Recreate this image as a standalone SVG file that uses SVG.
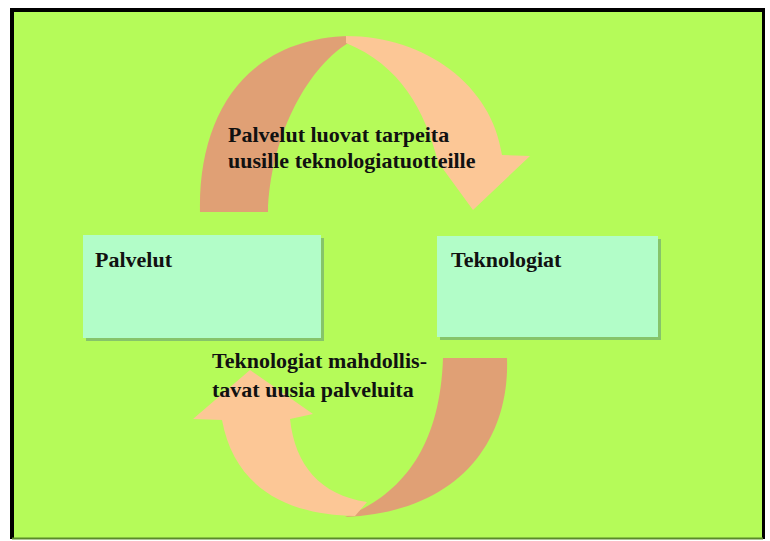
<svg xmlns="http://www.w3.org/2000/svg" width="770" height="541" viewBox="0 0 770 541">
<style>
.lbl{font-family:"Liberation Serif","Times New Roman",serif;font-weight:bold;font-size:22px;fill:#111}
.box{fill:#b2fdc8}
.shadow{fill:#86c46a}
.dark{fill:#e0a075}
.light{fill:#fcc796}
</style>
<rect x="0" y="0" width="770" height="541" fill="#ffffff"/>
<rect x="12" y="10" width="751" height="528" fill="#b5fb59"/>
<line x1="10" y1="10" x2="765" y2="10" stroke="#000" stroke-width="4"/>
<line x1="12" y1="8" x2="12" y2="539" stroke="#000" stroke-width="4"/>
<line x1="763.5" y1="8" x2="763.5" y2="539" stroke="#000" stroke-width="3"/>
<line x1="12" y1="538.5" x2="763" y2="538.5" stroke="#5a8a2a" stroke-width="2"/>
<g id="connectors">
  <g id="arrow-top">
    <path class="dark" d="M200,212 C198,110 250,38 350,36 L348,43 C305,70 270,140 268,212 Z"/>
    <path class="light" d="M346,36 C425,36 492,85 502,155 L530,156 L473,210 L438,162 C425,110 400,65 346,43 Z"/>
    <text class="lbl" x="228" y="142">Palvelut luovat tarpeita</text>
    <text class="lbl" x="228" y="168">uusille teknologiatuotteille</text>
  </g>
  <g id="arrow-bottom">
    <path class="dark" d="M443,358 L507,358 C510,440 460,512 345,517 C400,495 440,450 443,358 Z"/>
    <path class="light" d="M355,516 C290,515 235,490 222,420 L193,419 L250,370 L313,414 L290,419 C295,465 320,495 367,502 Z"/>
    <text class="lbl" x="212" y="368">Teknologiat mahdollis-</text>
    <text class="lbl" x="212" y="397">tavat uusia palveluita</text>
  </g>
</g>
<g id="node-palvelut">
  <rect class="shadow" x="86" y="238" width="238" height="103"/>
  <rect class="box" x="83" y="235" width="238" height="103"/>
  <text class="lbl" x="95" y="267">Palvelut</text>
</g>
<g id="node-teknologiat">
  <rect class="shadow" x="440" y="239" width="221" height="101"/>
  <rect class="box" x="437" y="236" width="221" height="101"/>
  <text class="lbl" x="451" y="267">Teknologiat</text>
</g>
</svg>
